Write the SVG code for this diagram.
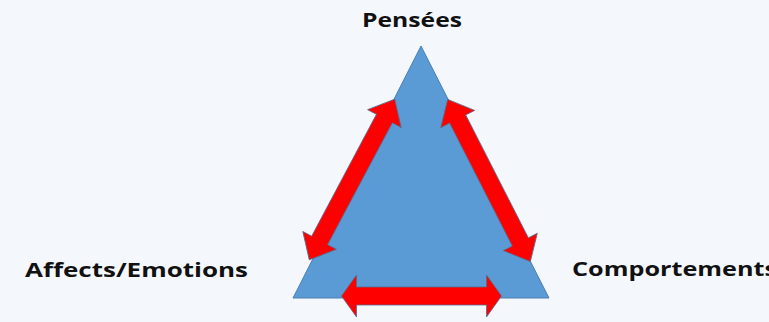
<svg xmlns="http://www.w3.org/2000/svg" width="769" height="322" viewBox="0 0 769 322">
<style>
.lbl{font-family:"Open Sans","Liberation Sans",sans-serif;font-weight:bold;font-size:20px;fill:#111}
.tri{fill:#5b9bd5;stroke:#4a7fb3;stroke-width:1}
.arr{fill:#ff0000;stroke:#5a6a8a;stroke-width:0.8;stroke-linejoin:miter}
</style>
<defs>
<path id="darr" d="M-91,0 L-69,-19 L-69,-9 L69,-9 L69,-19 L91,0 L69,19 L69,9 L-69,9 L-69,19 Z"/>
</defs>
<rect width="769" height="322" fill="#f4f8fd"/>
<g id="triangle"><polygon class="tri" points="421,46 293,298 549,298"/></g>
<g id="connectors">
<path class="arr" d="M-80,0 L-65,-21 L-65,-9 L65,-9 L65,-21 L80,0 L65,21 L65,9 L-65,9 L-65,21 Z" transform="translate(421.5,296)"/>
<use href="#darr" class="arr" transform="translate(352,179.5) rotate(-62)"/>
<use href="#darr" class="arr" transform="translate(489,180.5) rotate(63)"/>
</g>
<g id="pensees"><text class="lbl" x="412" y="27" text-anchor="middle" textLength="100" lengthAdjust="spacingAndGlyphs">Pensées</text></g>
<g id="affects"><text class="lbl" x="25" y="277" textLength="223" lengthAdjust="spacingAndGlyphs">Affects/Emotions</text></g>
<g id="comportements"><text class="lbl" x="572" y="276" textLength="205" lengthAdjust="spacingAndGlyphs">Comportements</text></g>
</svg>
